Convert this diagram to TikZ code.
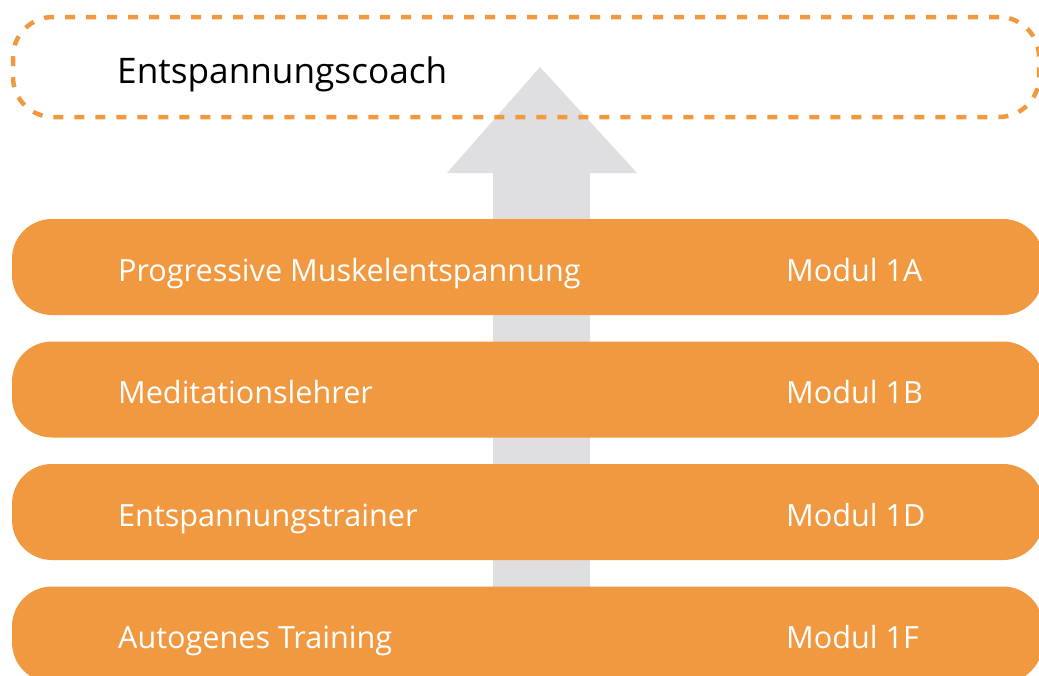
\documentclass[tikz,border=0pt]{standalone}
\usepackage{fontspec}
\setmainfont{Open Sans}
\definecolor{barorange}{HTML}{F19941}
\definecolor{arrowgrey}{HTML}{DFDFE1}
\tikzset{
  bar/.style={fill=barorange, draw=none, rounded corners=40pt, minimum width=1031pt, minimum height=96pt, inner sep=0pt, outer sep=0pt},
  bartext/.style={anchor=base west, inner sep=0pt, text=white, font=\fontsize{30.6}{36}\selectfont},
  goalbox/.style={draw=barorange, line width=4.5pt, dash pattern=on 10pt off 11pt, rounded corners=40pt, minimum width=1026pt, minimum height=100pt, inner sep=0pt},
  goaltext/.style={anchor=base west, inner sep=0pt, text=black, font=\fontsize{35.2}{40}\selectfont}
}
\begin{document}
\begin{tikzpicture}[x=1pt,y=-1pt]
\useasboundingbox (0,0) rectangle (1039,675);
\clip (0,0) rectangle (1039,675);
% arrow
\fill[arrowgrey] (540,67) -- (637,173) -- (590,173) -- (590,620) -- (493,620) -- (493,173) -- (447,173) -- cycle;
% goal box
\node[goalbox] (goal) at (526,67) {};
\node[goaltext] (goalt) at (117,83) {Entspannungscoach};
% bars
\node[bar] (b1) at (527.5,267) {};
\node[bar] (b2) at (527.5,389.5) {};
\node[bar] (b3) at (527.5,512) {};
\node[bar] (b4) at (527.5,634.5) {};
\node[bartext] (t1) at (118,281) {Progressive Muskelentspannung};
\node[bartext] (m1) at (786,281) {Modul 1A};
\node[bartext] (t2) at (118,403.5) {Meditationslehrer};
\node[bartext] (m2) at (786,403.5) {Modul 1B};
\node[bartext] (t3) at (118,526) {Entspannungstrainer};
\node[bartext] (m3) at (786,526) {Modul 1D};
\node[bartext] (t4) at (118,648.5) {Autogenes Training};
\node[bartext] (m4) at (786,648.5) {Modul 1F};
\end{tikzpicture}
\end{document}
